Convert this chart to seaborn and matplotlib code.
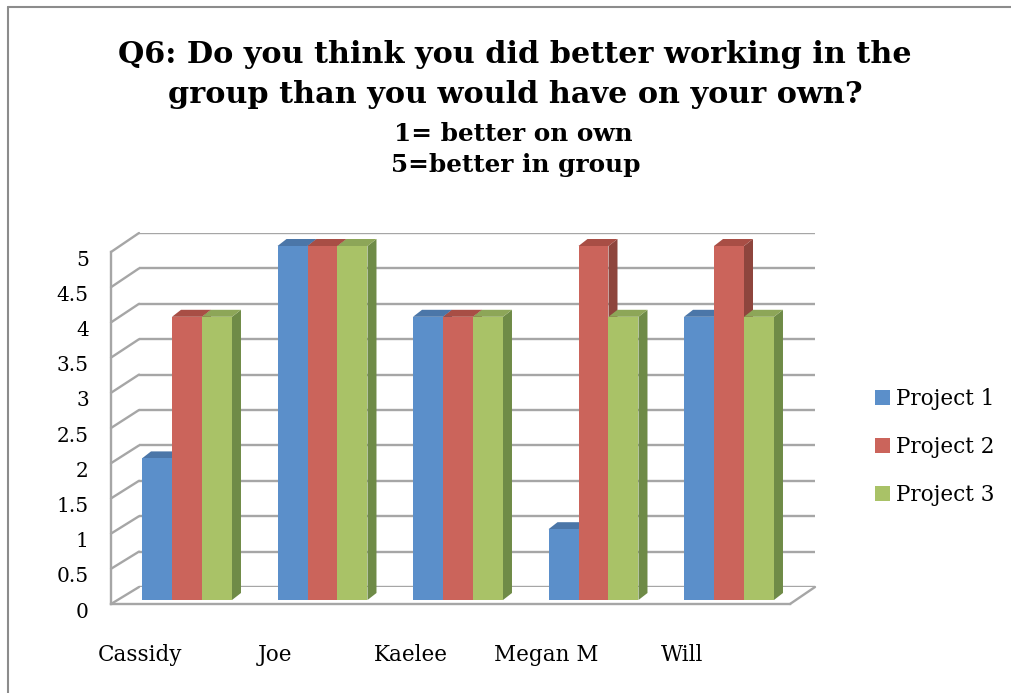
import numpy as np
import pandas as pd
import matplotlib
matplotlib.use("Agg")
import matplotlib.pyplot as plt
import seaborn as sns
from matplotlib.patches import Polygon
from matplotlib.lines import Line2D
from matplotlib.transforms import ScaledTranslation, IdentityTransform

# ---------------- data ----------------
students = ["Cassidy", "Joe", "Kaelee", "Megan M", "Will"]
projects = ["Project 1", "Project 2", "Project 3"]
project1 = [2, 5, 4, 1, 4]
project2 = [4, 5, 4, 5, 5]
project3 = [4, 5, 4, 4, 4]
y_ticks = [0, 0.5, 1, 1.5, 2, 2.5, 3, 3.5, 4, 4.5, 5]
y_tick_labels = ["0", "0.5", "1", "1.5", "2", "2.5", "3", "3.5", "4", "4.5", "5"]
title_lines = ["Q6: Do you think you did better working in the",
               "group than you would have on your own?"]
subtitle_lines = ["1= better on own", "5=better in group"]

front_colors = ["#5B8FCA", "#CB645B", "#A9C267"]
top_colors = ["#4B76A8", "#A84E45", "#8DA658"]
side_colors = ["#3F6591", "#8E453D", "#6F8B47"]
grid_color = "#A6A6A6"
frame_color = "#8C8C8C"

sns.set_theme(style="white")
plt.rcParams["font.family"] = ["DejaVu Serif"]
plt.rcParams["text.color"] = "black"

W, H = 1011, 693
fig = plt.figure(figsize=(W / 100, H / 100), dpi=100)


def rect(l, t, r, b):
    return [l / W, 1 - b / H, (r - l) / W, (b - t) / H]


def px(dx, dy):
    return ScaledTranslation(dx / 100, dy / 100, fig.dpi_scale_trans)


ax_back = fig.add_axes(rect(139, 233, 815, 587))
ax_bar = fig.add_axes(rect(111, 246, 790, 600))
ax_front = fig.add_axes(rect(111, 252, 790, 604))
ax_back.set_zorder(0)
ax_bar.set_zorder(1)
ax_front.set_zorder(2)

# ---------------- back wall ----------------
ax_back.set_ylim(0, 5)
ax_back.set_yticks(y_ticks)
ax_back.set_xticks([])
ax_back.yaxis.grid(True, color=grid_color, linewidth=1.7)
ax_back.tick_params(left=False, labelleft=False)
for s in ax_back.spines.values():
    s.set_visible(False)
ax_back.patch.set_visible(False)

# ---------------- bars ----------------
df = pd.DataFrame({
    "Student": students * 3,
    "Project": np.repeat(projects, len(students)),
    "Score": project1 + project2 + project3,
})
sns.barplot(data=df, x="Student", y="Score", hue="Project",
            order=students, hue_order=projects, palette=front_colors,
            saturation=1, width=0.664, errorbar=None, linewidth=0,
            ax=ax_bar)
xl = ((111 - 187) / 135.5, (790 - 187) / 135.5)
ax_bar.set_xlim(*xl)
ax_bar.set_ylim(0, 5)
ax_bar.patch.set_visible(False)
for s in ax_bar.spines.values():
    s.set_visible(False)
ax_bar.set_xticks([])
ax_bar.set_yticks([])
ax_bar.set_xlabel("")
ax_bar.set_ylabel("")

DX, DY = 9, 7
for k, cont in enumerate(ax_bar.containers):
    for bar in cont:
        bar.set_zorder(3 + 2 * k)
        x0, w, h = bar.get_x(), bar.get_width(), bar.get_height()
        (a, b0) = ax_bar.transData.transform((x0, 0))
        (c, b1) = ax_bar.transData.transform((x0 + w, h))
        side = Polygon([(c, b0), (c + DX, b0 + DY), (c + DX, b1 + DY), (c, b1)],
                       closed=True, transform=IdentityTransform(),
                       facecolor=side_colors[k], edgecolor="none",
                       zorder=2 + 2 * k, clip_on=False)
        top = Polygon([(a, b1), (c, b1), (c + DX, b1 + DY), (a + DX, b1 + DY)],
                      closed=True, transform=IdentityTransform(),
                      facecolor=top_colors[k], edgecolor="none",
                      zorder=2 + 2 * k, clip_on=False)
        ax_bar.add_patch(side)
        ax_bar.add_patch(top)

sns.move_legend(ax_bar, "center left",
                bbox_to_anchor=(875 / W, 1 - 447 / H),
                bbox_transform=fig.transFigure, frameon=False, title=None,
                fontsize=15.5, handlelength=0.68, handleheight=0.68,
                handletextpad=0.3, labelspacing=1.2, borderpad=0,
                borderaxespad=0)

# ---------------- front (axis) plane ----------------
ax_front.set_xlim(*xl)
ax_front.set_ylim(0, 5)
ax_front.patch.set_visible(False)
ax_front.spines["top"].set_visible(False)
ax_front.spines["right"].set_visible(False)
for s in ("left", "bottom"):
    ax_front.spines[s].set_color(grid_color)
    ax_front.spines[s].set_linewidth(1.7)
ax_front.set_yticks(y_ticks)
ax_front.set_yticklabels(y_tick_labels)
ax_front.set_xticks(range(len(students)))
ax_front.set_xticklabels(students)
ax_front.tick_params(axis="y", length=0, pad=16, labelsize=14.5, labelcolor="black")
ax_front.tick_params(axis="x", length=0, pad=29, labelsize=15.5, labelcolor="black")
for lab in ax_front.get_yticklabels():
    lab.set_transform(lab.get_transform() + px(0, -6))
for lab in ax_front.get_xticklabels():
    lab.set_transform(lab.get_transform() + px(-47, 0))

# left wall diagonals and floor right edge
inv = fig.transFigure.inverted()
for v in y_ticks:
    p_front = ax_front.transData.transform((xl[0], v))
    p_back = ax_back.transAxes.transform((0, 0))
    p_back = (p_back[0], ax_back.transData.transform((0, v))[1])
    (fx, fy), (bx, by) = inv.transform(p_front), inv.transform(p_back)
    fig.add_artist(Line2D([fx, bx], [fy, by], color=grid_color, linewidth=1.7))
p_front = ax_front.transData.transform((xl[1], 0))
p_back = ax_back.transAxes.transform((1, 0))
(fx, fy), (bx, by) = inv.transform(p_front), inv.transform(p_back)
fig.add_artist(Line2D([fx, bx], [fy, by], color=grid_color, linewidth=1.7))

# ---------------- titles ----------------
tx = 515 / W
fig.text(tx, 1 - 63 / H, title_lines[0], ha="center", va="baseline",
         fontsize=21.8, fontweight="bold", color="black")
fig.text(tx, 1 - 103 / H, title_lines[1], ha="center", va="baseline",
         fontsize=21.8, fontweight="bold", color="black")
fig.text(513 / W, 1 - 141 / H, subtitle_lines[0], ha="center", va="baseline",
         fontsize=17.8, fontweight="bold", color="black")
fig.text(516 / W, 1 - 172 / H, subtitle_lines[1], ha="center", va="baseline",
         fontsize=17.8, fontweight="bold", color="black")

# ---------------- outer frame ----------------
fig.add_artist(Line2D([8 / W, 8 / W], [0, 1 - 7 / H], color=frame_color, linewidth=1.5))
fig.add_artist(Line2D([8 / W, 1], [1 - 7 / H, 1 - 7 / H], color=frame_color, linewidth=1.5))

fig.savefig("out.png", dpi=100)
